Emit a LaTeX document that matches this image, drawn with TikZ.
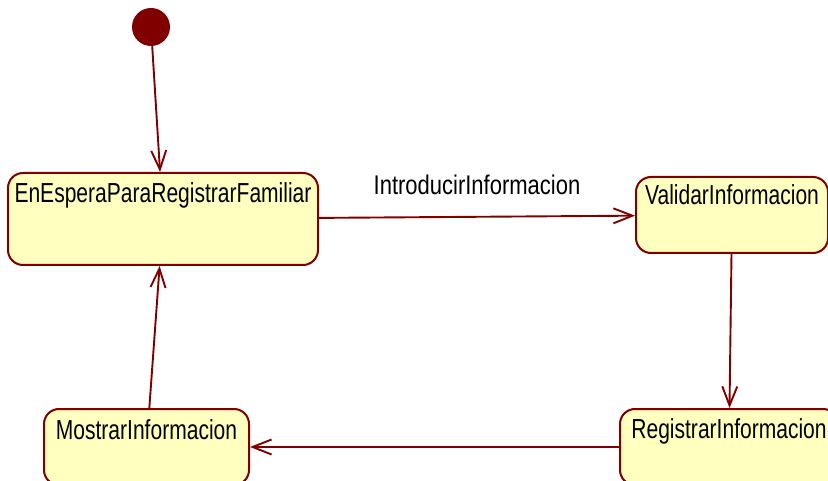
\documentclass[tikz,border=0pt]{standalone}
\usepackage{fontspec}
\setmainfont[FakeStretch=0.765]{Liberation Sans}
\newfontfamily\translabelfont[FakeStretch=0.815]{Liberation Sans}
\usetikzlibrary{arrows.meta}
\definecolor{umlred}{RGB}{128,0,0}
\definecolor{umlfill}{RGB}{255,255,192}

\begin{document}
\begin{tikzpicture}[x=1pt,y=-1pt,
	state/.style={draw=umlred,fill=umlfill,line width=2pt,rounded corners=15pt,inner sep=4pt,font=\fontsize{27.5}{30}\selectfont},
	trans/.style={draw=umlred,line width=1.9pt,-{Straight Barb[length=19pt,width=15pt,line width=1.9pt]}}]
			\useasboundingbox (0,0) rectangle (828,481);
			\node[circle,fill=umlred,minimum size=38pt,inner sep=0pt] (init) at (151,27) {};
			\node[state,minimum width=310pt,text height=26pt,text depth=58pt] (espera) at (163,219) {EnEsperaParaRegistrarFamiliar};
			\node[state,minimum width=192pt,text height=24pt,text depth=44pt] (validar) at (732,215) {ValidarInformacion};
			\node[state,minimum width=218pt,text height=25pt,text depth=43pt] (registrar) at (729,447) {RegistrarInformacion};
			\node[state,minimum width=205pt,text height=26pt,text depth=42pt] (mostrar) at (146.5,447) {MostrarInformacion};
			\path[trans]
			(init) edge (espera)
			(espera) edge node [midway,anchor=base,yshift=22pt,font=\translabelfont\fontsize{27}{30}\selectfont] {IntroducirInformacion} (validar)
			(validar) edge (registrar)
			(registrar) edge (mostrar)
			(mostrar) edge (espera);
		\end{tikzpicture}
\end{document}
